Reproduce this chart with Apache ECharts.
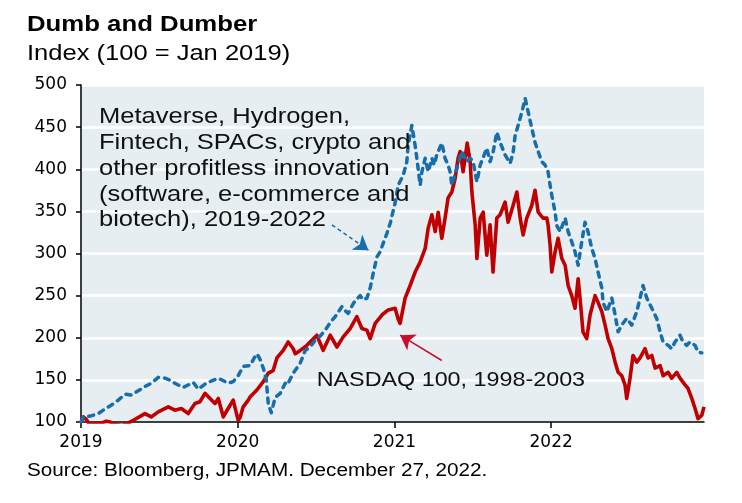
<!DOCTYPE html>
<html><head><meta charset="utf-8">
<script src="https://cdn.jsdelivr.net/npm/echarts@6/dist/echarts.min.js"></script>
<style>html,body{margin:0;padding:0;background:#fff}#c{width:742px;height:503px}</style>
</head><body><div id="c"></div>
<script>
const FONT = 'DejaVu Sans';
const TFONT = 'Liberation Sans';
const titleText = 'Dumb and Dumber';
const subtitleText = 'Index (100 = Jan 2019)';
const sourceText = 'Source: Bloomberg, JPMAM. December 27, 2022.';
const blueLabelLines = ['Metaverse, Hydrogen,', 'Fintech, SPACs, crypto and', 'other profitless innovation', '(software, e-commerce and', 'biotech), 2019-2022'];
const redLabel = 'NASDAQ 100, 1998-2003';
const yearTicks = [2019, 2020, 2021, 2022];

// Blue: Metaverse/Hydrogen/Fintech/SPACs/crypto basket, 2019-2022 (x in decimal years)
const blueYears = [2019.000,2019.015,2019.059,2019.110,2019.149,2019.193,2019.238,2019.281,2019.321,2019.365,
2019.408,2019.448,2019.493,2019.536,2019.563,2019.599,2019.652,2019.716,2019.748,2019.799,
2019.837,2019.876,2019.939,2019.971,2020.003,2020.035,2020.080,2020.105,2020.124,2020.143,
2020.163,2020.182,2020.195,2020.214,2020.239,2020.271,2020.303,2020.316,2020.354,2020.373,
2020.399,2020.431,2020.462,2020.494,2020.526,2020.558,2020.590,2020.622,2020.665,2020.686,
2020.705,2020.730,2020.749,2020.781,2020.800,2020.824,2020.845,2020.864,2020.888,2020.909,
2020.920,2020.952,2020.973,2021.004,2021.024,2021.056,2021.079,2021.087,2021.111,2021.132,
2021.143,2021.164,2021.175,2021.196,2021.215,2021.239,2021.253,2021.270,2021.302,2021.323,
2021.342,2021.355,2021.366,2021.398,2021.430,2021.462,2021.483,2021.502,2021.526,2021.547,
2021.589,2021.610,2021.629,2021.653,2021.674,2021.706,2021.738,2021.757,2021.770,2021.789,
2021.813,2021.834,2021.853,2021.876,2021.897,2021.917,2021.940,2021.961,2021.980,2021.993,
2022.004,2022.025,2022.036,2022.057,2022.089,2022.108,2022.131,2022.152,2022.172,2022.195,
2022.216,2022.235,2022.259,2022.280,2022.299,2022.323,2022.331,2022.355,2022.387,2022.408,
2022.427,2022.450,2022.482,2022.514,2022.546,2022.567,2022.586,2022.610,2022.642,2022.673,
2022.695,2022.714,2022.746,2022.769,2022.790,2022.822,2022.841,2022.865,2022.886,2022.918,
2022.937,2022.961];
const blueValues = [100,106,107,110,115,120,126,133,132,137,
142,146,153,152,150,146,141,147,139,146,
149,152,146,148,155,166,167,176,181,174,
164,150,122,111,129,134,146,144,158,163,
170,185,189,197,202,209,218,225,237,232,
229,238,244,250,245,247,259,276,296,302,
308,324,336,360,381,393,409,428,452,428,
413,381,397,413,397,413,405,417,431,413,
405,397,381,401,421,409,413,409,385,405,
425,409,420,444,432,417,407,420,440,452,
468,484,468,449,432,421,409,405,397,381,
369,349,333,326,342,326,314,302,286,314,
337,326,306,294,278,259,242,231,247,227,
207,215,223,215,231,247,262,247,235,223,
207,195,191,187,195,203,195,191,195,191,
183,182];

// Red: NASDAQ 100, 1998-2003 (re-based, mapped onto the same 4-year span)
const redYears = [2019.000,2019.015,2019.034,2019.059,2019.098,2019.123,2019.161,2019.187,2019.219,2019.263,
2019.302,2019.334,2019.408,2019.448,2019.493,2019.557,2019.599,2019.640,2019.684,2019.727,
2019.759,2019.791,2019.823,2019.855,2019.876,2019.908,2019.939,2019.971,2020.003,2020.016,
2020.035,2020.067,2020.080,2020.122,2020.163,2020.195,2020.226,2020.250,2020.290,2020.322,
2020.354,2020.367,2020.399,2020.441,2020.505,2020.545,2020.590,2020.633,2020.673,2020.718,
2020.760,2020.792,2020.824,2020.845,2020.877,2020.920,2020.960,2021.004,2021.024,2021.036,
2021.068,2021.100,2021.132,2021.164,2021.196,2021.215,2021.239,2021.260,2021.279,2021.302,
2021.323,2021.342,2021.366,2021.387,2021.406,2021.419,2021.438,2021.464,2021.483,2021.494,
2021.515,2021.526,2021.547,2021.566,2021.589,2021.610,2021.629,2021.653,2021.674,2021.706,
2021.725,2021.757,2021.781,2021.802,2021.821,2021.844,2021.876,2021.897,2021.917,2021.948,
2021.972,2021.980,2021.993,2022.004,2022.025,2022.044,2022.068,2022.089,2022.108,2022.131,
2022.152,2022.172,2022.184,2022.203,2022.227,2022.248,2022.280,2022.299,2022.323,2022.344,
2022.363,2022.387,2022.408,2022.427,2022.450,2022.471,2022.482,2022.503,2022.522,2022.546,
2022.567,2022.599,2022.618,2022.642,2022.663,2022.695,2022.714,2022.746,2022.769,2022.801,
2022.822,2022.854,2022.873,2022.897,2022.918,2022.937,2022.961,2022.975];
const redValues = [100,106,103,96,99,98,101,100,97,96,
99,102,110,106,112,118,114,116,110,122,
124,134,128,122,128,106,116,126,102,106,
118,126,130,138,148,158,161,176,185,195,
187,181,185,191,203,185,203,189,201,211,
225,211,209,199,217,227,233,235,222,217,
247,262,278,290,306,330,346,326,349,318,
342,366,373,389,413,421,397,431,409,373,
334,294,342,349,298,334,278,342,346,361,
337,357,373,342,322,342,357,375,349,342,
342,334,310,278,302,318,294,286,262,250,
235,270,247,207,199,227,250,242,231,215,
199,187,171,159,155,144,128,152,179,171,
176,187,176,179,164,167,155,159,152,159,
152,144,140,128,116,104,108,118];

// annotation arrows (data coordinates: [year, index])
const blueArrow = [[2020.601, 334], [2020.834, 304]];
const redArrow = [[2021.302, 173], [2021.036, 203]];

const BLUE = '#176eab';
const RED = '#c00000';
const SX = 1.15; // horizontal stretch of the reference's lettering

function label(x, y, text, size, opts) {
  return {
    type: 'text', x: x, y: y, scaleX: SX, z: 10,
    style: Object.assign({x: 0, y: 0, text: text, fill: '#000', fontSize: size, fontFamily: TFONT, verticalAlign: 'middle', align: 'left'}, opts || {})
  };
}

const chart = echarts.init(document.getElementById('c'), null, {renderer: 'canvas'});
chart.setOption({
  animation: false,
  textStyle: {fontFamily: FONT},
  grid: {left: 81, right: 38, top: 85, bottom: 81, show: true, backgroundColor: '#e6eef2', borderWidth: 0},
  xAxis: {
    type: 'value', min: 2019, max: 2022.975, interval: 1,
    axisLine: {lineStyle: {color: '#000', width: 1.5}},
    axisTick: {customValues: yearTicks, length: 6, lineStyle: {color: '#000', width: 1.5}},
    axisLabel: {customValues: yearTicks, formatter: v => String(v), color: '#000', fontSize: 17, margin: 12, fontFamily: FONT},
    splitLine: {show: false}
  },
  yAxis: {
    type: 'value', min: 100, max: 500, interval: 50,
    axisLine: {show: true, lineStyle: {color: '#000', width: 1.5}},
    axisTick: {show: true, length: 5, lineStyle: {color: '#000', width: 1.5}},
    axisLabel: {color: '#000', fontSize: 17, margin: 14, fontFamily: FONT},
    splitLine: {lineStyle: {color: '#fff', width: 2.5}}
  },
  series: [
    {
      name: redLabel, type: 'line', showSymbol: false, clip: true, z: 2,
      data: redYears.map((x, i) => [x, redValues[i]]),
      lineStyle: {color: RED, width: 3.6, join: 'round'},
      markLine: {
        silent: true, symbol: ['none', 'arrow'], symbolSize: 14,
        label: {show: false},
        lineStyle: {color: '#c8102e', width: 1.5, type: 'solid'},
        data: [[{coord: redArrow[0]}, {coord: redArrow[1]}]]
      }
    },
    {
      name: 'Metaverse basket', type: 'line', showSymbol: false, clip: true, z: 3,
      data: blueYears.map((x, i) => [x, blueValues[i]]),
      lineStyle: {color: BLUE, width: 3.5, type: [5, 6], cap: 'round', join: 'round'},
      markLine: {
        silent: true, symbol: ['none', 'arrow'], symbolSize: 14,
        label: {show: false},
        lineStyle: {color: BLUE, width: 1.5, type: [4, 3]},
        data: [[{coord: blueArrow[0]}, {coord: blueArrow[1]}]]
      }
    }
  ],
  graphic: [
    label(27, 24.5, titleText, 22.4, {fontWeight: 'bold'}),
    label(27, 53.5, subtitleText, 22.2),
    label(99, 104.5, blueLabelLines.join('\n'), 22.2, {fill: '#111', lineHeight: 25.7, verticalAlign: 'top'}),
    label(316.7, 380, redLabel, 20.3, {fill: '#111'}),
    label(27, 471, sourceText, 18)
  ]
});
</script>
</body></html>
